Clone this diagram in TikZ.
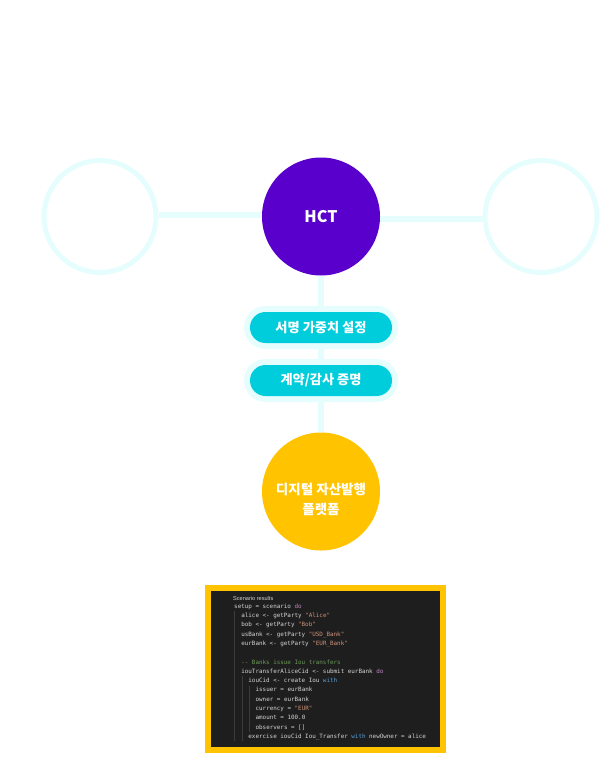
\documentclass[tikz,border=0pt]{standalone}
\usepackage{fontspec}
\usetikzlibrary{backgrounds}
\setmainfont{Noto Sans CJK KR}
\newfontfamily\codefont{DejaVu Sans Mono}
\newfontfamily\uifont{Liberation Sans}
\definecolor{ring}{HTML}{E6FDFE}
\definecolor{hctpurple}{HTML}{5A00CC}
\definecolor{pillcyan}{HTML}{00CDDC}
\definecolor{gold}{HTML}{FFC300}
\definecolor{codebg}{HTML}{1E1E1E}
\definecolor{codetxt}{HTML}{D4D4D4}
\definecolor{codestr}{HTML}{CE9178}
\definecolor{codekw}{HTML}{C586C0}
\definecolor{codeblue}{HTML}{569CD6}
\definecolor{codecmt}{HTML}{6A9955}
\definecolor{guide}{HTML}{3C3C3C}
\tikzset{
  ringnode/.style={circle, draw=ring, line width=5pt, minimum size=112pt, inner sep=0pt},
  bignode/.style={circle, minimum size=118pt, inner sep=0pt, text=white, align=center},
  pillnode/.style={rectangle, rounded corners=15.5pt, fill=pillcyan, minimum width=142pt, minimum height=31pt, inner sep=0pt, text=white, font=\fontsize{13.2}{16}\selectfont\bfseries, preaction={draw=ring, line width=12pt, rounded corners=15.5pt}},
  conn/.style={draw=ring, line width=5.5pt},
  codeline/.style={anchor=base west, inner sep=0pt, text=codetxt, font=\codefont\fontsize{5.9}{7}\selectfont},
  guideline/.style={draw=guide, line width=0.6pt}
}
\newcommand{\cstr}[1]{\textcolor{codestr}{#1}}
\newcommand{\ckw}[1]{\textcolor{codekw}{#1}}
\newcommand{\cblue}[1]{\textcolor{codeblue}{#1}}
\begin{document}
\begin{tikzpicture}[x=1pt,y=-1pt]
\useasboundingbox (0,0) rectangle (600,760);
% nodes
\node[ringnode] (left) at (100,216.5) {};
\node[ringnode] (right) at (541,216.5) {};
\node[bignode, fill=hctpurple, font=\fontsize{16}{18}\selectfont\bfseries] (hct) at (321,216.5) {HCT};
\node[bignode, fill=gold, font=\fontsize{13.5}{20}\selectfont\bfseries] (gold) at (321,491.5) {\\[7pt]디지털 자산발행\\플랫폼};
\node[pillnode] (p1) at (321,327.5) {서명 가중치 설정};
\node[pillnode] (p2) at (321,380.5) {계약/감사 증명};
% connectors (behind)
\begin{scope}[on background layer]
\draw[conn] (left.east |- 0,215) -- (hct.west |- 0,215);
\draw[conn] (hct.east |- 0,219) -- (right.west |- 0,219);
\draw[conn] (hct.south) -- (gold.north);
\end{scope}
% code box
\node[draw=gold, line width=6pt, fill=codebg, minimum width=235pt, minimum height=162pt, inner sep=0pt] (code) at (325.5,669) {};
% indent guides
\draw[guideline] (234.5,611) -- (234.5,741);
\draw[guideline] (241.8,676) -- (241.8,741);
\draw[guideline] (249.2,686) -- (249.2,732);
% code text
\node[codeline, font=\uifont\fontsize{5.6}{7}\selectfont] (l1) at (233,600.3) {Scenario results};
\node[codeline] (l2) at (234,608.1) {setup = scenario \ckw{do}};
\node[codeline] (l3) at (241.1,617.5) {alice <- getParty \cstr{"Alice"}};
\node[codeline] (l4) at (241.1,626.8) {bob <- getParty \cstr{"Bob"}};
\node[codeline] (l5) at (241.1,636.1) {usBank <- getParty \cstr{"USD\_Bank"}};
\node[codeline] (l6) at (241.1,645.4) {eurBank <- getParty \cstr{"EUR\_Bank"}};
\node[codeline, text=codecmt] (l8) at (241.1,664) {-- Banks issue Iou transfers};
\node[codeline] (l9) at (241.1,673.3) {iouTransferAliceCid <- submit eurBank \ckw{do}};
\node[codeline] (l10) at (248.2,682.6) {iouCid <- create Iou \cblue{with}};
\node[codeline] (l11) at (255.4,691.9) {issuer = eurBank};
\node[codeline] (l12) at (255.4,701.2) {owner = eurBank};
\node[codeline] (l13) at (255.4,710.5) {currency = \cstr{"EUR"}};
\node[codeline] (l14) at (255.4,719.8) {amount = 100.0};
\node[codeline] (l15) at (255.4,729.1) {observers = []};
\node[codeline] (l16) at (248.2,738.4) {exercise iouCid Iou\_Transfer \cblue{with} newOwner = alice};
\end{tikzpicture}
\end{document}
